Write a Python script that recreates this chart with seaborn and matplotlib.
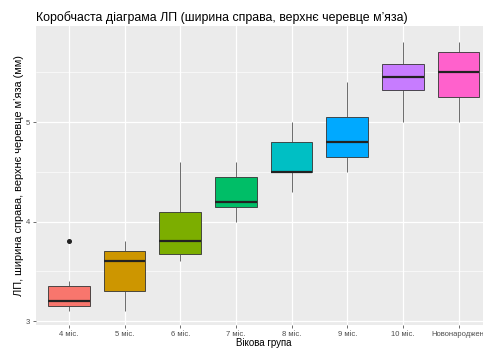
import matplotlib
matplotlib.use("Agg")
import matplotlib.pyplot as plt
import seaborn as sns
import pandas as pd

# Measurements by age group (mm)
groups = ["4 міс.", "5 міс.", "6 міс.", "7 міс.", "8 міс.", "9 міс.", "10 міс.", "Новонароджені"]
m4 = [3.1, 3.12, 3.15, 3.15, 3.17, 3.2, 3.2, 3.25, 3.3, 3.35, 3.38, 3.4, 3.8]
m5 = [3.1, 3.2, 3.3, 3.5, 3.6, 3.65, 3.7, 3.75, 3.8]
m6 = [3.6, 3.65, 3.67, 3.75, 3.8, 3.9, 4.1, 4.3, 4.6]
m7 = [4.0, 4.1, 4.15, 4.2, 4.2, 4.3, 4.45, 4.5, 4.6]
m8 = [4.3, 4.4, 4.5, 4.5, 4.5, 4.6, 4.8, 4.9, 5.0]
m9 = [4.5, 4.6, 4.65, 4.7, 4.8, 4.9, 5.05, 5.2, 5.4]
m10 = [5.0, 5.2, 5.32, 5.4, 5.45, 5.5, 5.58, 5.7, 5.8]
newborn = [5.0, 5.1, 5.25, 5.4, 5.5, 5.6, 5.7, 5.75, 5.8]
series = [m4, m5, m6, m7, m8, m9, m10, newborn]

palette = ["#F8766D", "#CD9600", "#7CAE00", "#00BE67",
           "#00BFC4", "#00A9FF", "#C77CFF", "#FF61CC"]

df = pd.DataFrame({
    "group": [g for g, vals in zip(groups, series) for _ in vals],
    "value": [v for vals in series for v in vals],
})

sns.set_theme(style="darkgrid")
plt.rcParams["font.family"] = ["Liberation Sans", "DejaVu Sans"]

fig = plt.figure(figsize=(4.83, 3.5), dpi=100)
ax = fig.add_axes([35.5 / 483, 25 / 350, 1 - 35.5 / 483, 299 / 350])
ax.set_facecolor("#EBEBEB")

sns.boxplot(
    data=df, x="group", y="value", hue="group", order=groups, hue_order=groups,
    palette=palette, saturation=1, legend=False, width=0.75,
    linecolor="#333333", linewidth=0.6, whis=1.5, showcaps=False, ax=ax,
    boxprops=dict(edgecolor="#333333", linewidth=0.6),
    whiskerprops=dict(color="#444444", linewidth=0.55),
    medianprops=dict(color="#222222", linewidth=1.6),
    flierprops=dict(marker="o", markerfacecolor="#222222", markeredgecolor="#222222",
                    markersize=2.6),
    zorder=3,
)

ax.set_xlim(-0.6, 7.44)
ax.set_ylim(2.96, 5.965)
ax.set_yticks([3, 4, 5])
ax.set_yticklabels(["3", "4", "5"])
ax.set_yticks([3.5, 4.5, 5.5], minor=True)
ax.grid(which="major", color="white", linewidth=0.9, zorder=0)
ax.grid(which="minor", axis="y", color="white", linewidth=0.45, zorder=0)
ax.set_axisbelow(True)
for s in ax.spines.values():
    s.set_visible(False)

ax.tick_params(axis="both", which="major", length=2, width=0.5, color="#333333",
               labelsize=5.5, labelcolor="#4D4D4D", pad=2, bottom=True, left=True)
ax.tick_params(axis="both", which="minor", length=0)

ax.set_xlabel("Вікова група", fontsize=7, color="black", labelpad=2)
ax.xaxis.set_label_coords((263.7 - 35.5) / (483 - 35.5), -0.042, transform=ax.transAxes)
ax.xaxis.label.set_va("top")
ax.set_ylabel("ЛП, ширина справа, верхнє черевце м\u2019яза (мм)", fontsize=7.9,
              color="black")
ax.yaxis.set_label_coords(-11.0 / (483 - 35.5), 0.5, transform=ax.transAxes)

fig.text(35.5 / 483, 1 - 18 / 350, "Коробчаста діаграма ЛП (ширина справа, верхнє черевце м\u2019яза)",
         fontsize=8.9, ha="left", va="center", color="black")

fig.savefig("out.png", dpi=100, facecolor="white")
